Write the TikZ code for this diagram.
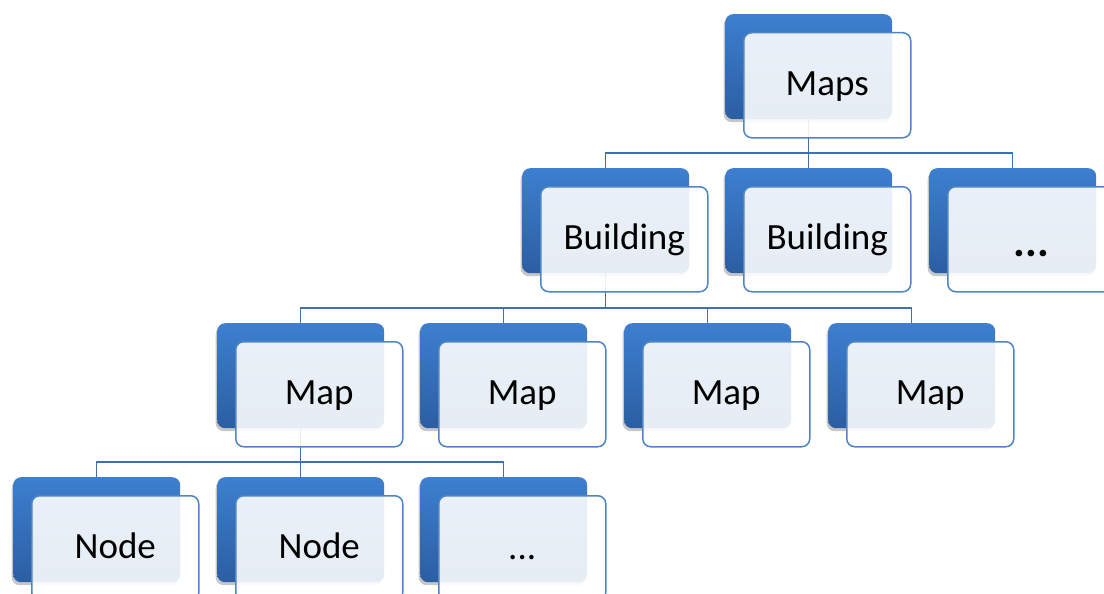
\documentclass[tikz,border=0pt]{standalone}
\usepackage{fontspec}
\setmainfont{Carlito}
\usetikzlibrary{calc,shadows,backgrounds}

\definecolor{backtop}{HTML}{3D7FD0}
\definecolor{backbot}{HTML}{2B5EA2}
\definecolor{frontline}{HTML}{5085C4}
\definecolor{connline}{HTML}{4170AE}

\tikzset{
  backbox/.style={rectangle, rounded corners=8pt, minimum width=167pt,
    minimum height=105pt, inner sep=0pt, top color=backtop, bottom color=backbot,
    draw=none,
    drop shadow={shadow xshift=-1.5pt, shadow yshift=-3pt, fill=black, opacity=0.22}},
  frontbox/.style={rectangle, rounded corners=8pt, minimum width=167pt,
    minimum height=105pt, inner sep=0pt, draw=frontline, line width=1.5pt,
    fill=white, fill opacity=0.89},
  lbl/.style={inner sep=0pt, font=\fontsize{37}{41}\selectfont, text=black},
  conn/.style={draw=connline, line width=1.5pt},
}

% back panel, translucent front panel and its label
\newcommand\orgbox[5][10.5]{%
  \node[backbox, anchor=north west] (#2) at (#3,#4) {};
  \node[frontbox, anchor=north west] (#2f) at ($(#3,#4)+(18,18)$) {};
  \node[lbl, anchor=base] (#2t) at ($(#2f.center)+(0,#1)$) {#5};
}

\begin{document}
\begin{tikzpicture}[x=1pt, y=-1pt]
  \path[use as bounding box, clip] (0,0) rectangle (1104,594);

  % level 0
  \orgbox{maps}{725}{14}{Maps}
  % level 1
  \orgbox{bldA}{522}{168}{Building}
  \orgbox{bldB}{725}{168}{Building}
  \orgbox[17]{bldC}{929}{168}{\fontsize{44}{48}\selectfont\bfseries ...}
  % level 2
  \orgbox{mapA}{217}{323}{Map}
  \orgbox{mapB}{420}{323}{Map}
  \orgbox{mapC}{624}{323}{Map}
  \orgbox{mapD}{828}{323}{Map}
  % level 3
  \orgbox{nodeA}{13}{477}{Node}
  \orgbox{nodeB}{217}{477}{Node}
  \orgbox[11.5]{nodeC}{420}{477}{...}

  % connectors behind all panels
  \begin{pgfonlayer}{background}
    \foreach \c in {bldA,bldB,bldC}
      \draw[conn] (maps.south) |- ([yshift=15pt]\c.north) -- (\c.north);
    \foreach \c in {mapA,mapB,mapC,mapD}
      \draw[conn] (bldA.south) |- ([yshift=15pt]\c.north) -- (\c.north);
    \foreach \c in {nodeA,nodeB,nodeC}
      \draw[conn] (mapA.south) |- ([yshift=15pt]\c.north) -- (\c.north);
  \end{pgfonlayer}
\end{tikzpicture}
\end{document}
